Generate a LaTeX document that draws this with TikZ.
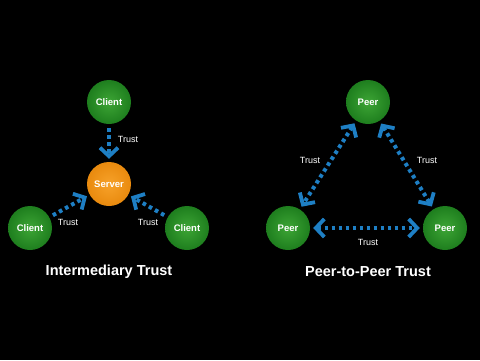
\documentclass[tikz,border=0pt]{standalone}
\usepackage{fontspec}
\setmainfont{Liberation Sans}
\usetikzlibrary{arrows.meta}
\definecolor{trustblue}{HTML}{1E7FC4}
\definecolor{greenin}{HTML}{3DA535}
\definecolor{greenout}{HTML}{1E7E1E}
\definecolor{orangein}{HTML}{F7A22A}
\definecolor{orangeout}{HTML}{E98A0E}
\tikzset{
  ballnode/.style={circle, minimum size=44pt, inner sep=0pt, text=white, font=\bfseries\fontsize{9.5}{11}\selectfont},
  greenball/.style={ballnode, shading=radial, inner color=greenin, outer color=greenout},
  orangeball/.style={ballnode, shading=radial, inner color=orangein, outer color=orangeout},
  barb/.tip={Straight Barb[length=8.5pt,width=18pt,line width=3.8pt]},
  trustline/.style={draw=trustblue, line width=4pt, dash pattern=on 3.6pt off 3.4pt,
     arrows={-barb}, shorten >=3pt, shorten <=4pt},
  bothline/.style={trustline, arrows={barb-barb}, shorten <=3pt},
  trustlabel/.style={text=white, font=\fontsize{9}{10}\selectfont, inner sep=0pt},
  titlelabel/.style={text=white, font=\bfseries\fontsize{14.5}{17}\selectfont, inner sep=0pt}
}
\begin{document}
\begin{tikzpicture}[x=1pt,y=-1pt]
\fill[black] (0,0) rectangle (480,360);
\useasboundingbox (0,0) rectangle (480,360);
% left diagram
\node[greenball] (ctop) at (109,102) {Client};
\node[orangeball] (srv) at (109,184) {Server};
\node[greenball] (cleft) at (30,228) {Client};
\node[greenball] (cright) at (187,228) {Client};
\draw[trustline] (ctop) -- (srv);
\draw[trustline] (cleft) -- (srv);
\draw[trustline] (cright) -- (srv);
\node[trustlabel] (t1) at (128,139) {Trust};
\node[trustlabel] (t2) at (68,222) {Trust};
\node[trustlabel] (t3) at (148,222) {Trust};
\node[titlelabel] (title1) at (109,272) {Intermediary Trust};
% right diagram
\node[greenball] (ptop) at (368,102) {Peer};
\node[greenball] (pleft) at (288,228) {Peer};
\node[greenball] (pright) at (445,228) {Peer};
\draw[bothline] (ptop) -- (pleft);
\draw[bothline] (ptop) -- (pright);
\draw[bothline] (pleft) -- (pright);
\node[trustlabel] (t4) at (310,160) {Trust};
\node[trustlabel] (t5) at (427,160) {Trust};
\node[trustlabel] (t6) at (368,242) {Trust};
\node[titlelabel] (title2) at (368,272) {Peer-to-Peer Trust};
\end{tikzpicture}
\end{document}
